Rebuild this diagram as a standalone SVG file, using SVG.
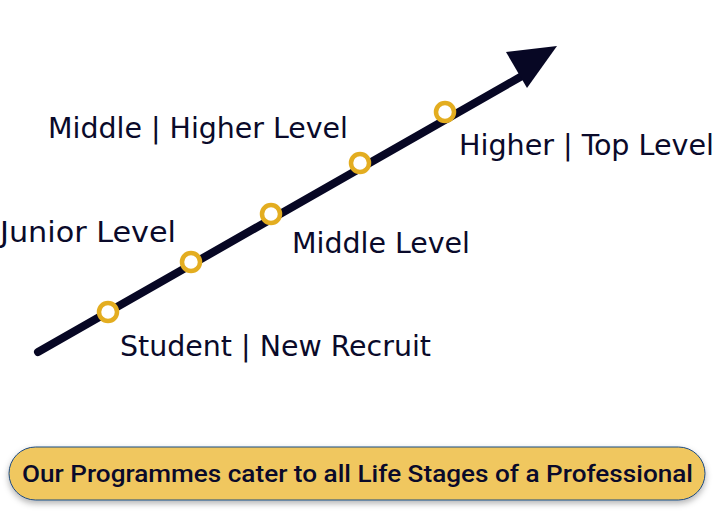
<svg xmlns="http://www.w3.org/2000/svg" width="714" height="511" viewBox="0 0 714 511">
<defs>
<style>
.lbl{font-family:"DejaVu Sans Condensed","Liberation Sans",sans-serif;font-size:28px;fill:#0a0a2a}
.dot{fill:#ffffff;stroke:#e3ad20;stroke-width:4.5}
.btn{font-family:Roboto,"DejaVu Sans Condensed",sans-serif;font-size:23.5px;fill:#0a0a2a;font-weight:500}
</style>
<filter id="sh" x="-5%" y="-30%" width="110%" height="170%">
<feDropShadow dx="0" dy="3" stdDeviation="3" flood-color="#000" flood-opacity="0.3"/>
</filter>
</defs>
<g id="connectors">
<line x1="38" y1="352" x2="522" y2="76" stroke="#070724" stroke-width="8" stroke-linecap="round"/>
<polygon points="557,46 506,52 527,88" fill="#070724"/>
</g>
<g id="n1"><circle class="dot" cx="108" cy="312" r="9"/><text class="lbl" x="120" y="356" textLength="311" lengthAdjust="spacingAndGlyphs">Student | New Recruit</text></g>
<g id="n2"><circle class="dot" cx="191" cy="262" r="9"/><text class="lbl" x="0" y="242" textLength="176" lengthAdjust="spacingAndGlyphs">Junior Level</text></g>
<g id="n3"><circle class="dot" cx="271" cy="214" r="9"/><text class="lbl" x="292" y="253" textLength="178" lengthAdjust="spacingAndGlyphs">Middle Level</text></g>
<g id="n4"><circle class="dot" cx="360" cy="163" r="9"/><text class="lbl" x="48" y="138" textLength="300" lengthAdjust="spacingAndGlyphs">Middle | Higher Level</text></g>
<g id="n5"><circle class="dot" cx="445" cy="112" r="9"/><text class="lbl" x="459" y="155" textLength="255" lengthAdjust="spacingAndGlyphs">Higher | Top Level</text></g>
<g id="banner">
<rect x="9" y="447" width="696" height="53" rx="26.5" fill="#f0c75e" stroke="#1d4a80" stroke-width="1" filter="url(#sh)"/>
<text class="btn" x="22" y="482" textLength="671" lengthAdjust="spacingAndGlyphs">Our Programmes cater to all Life Stages of a Professional</text>
</g>
</svg>
